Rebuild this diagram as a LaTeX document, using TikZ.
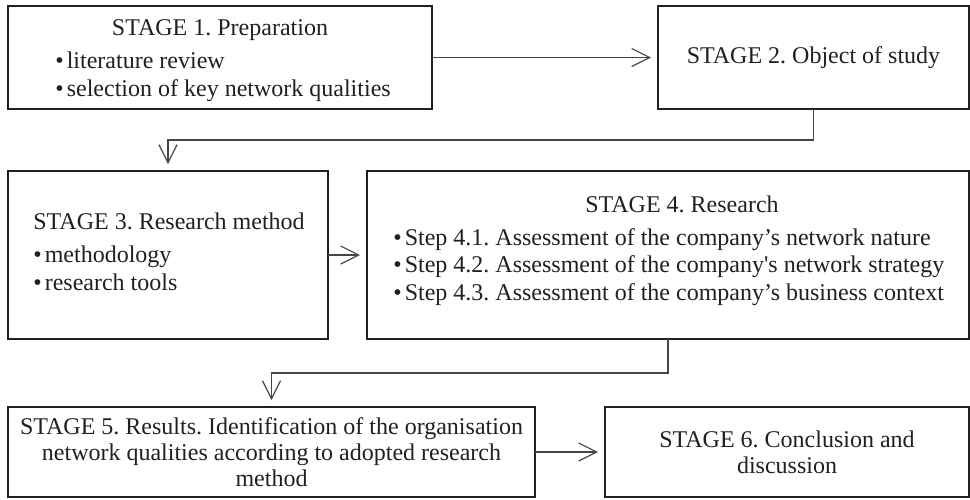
\documentclass[tikz,border=0pt]{standalone}
\usepackage{fontspec}
\setmainfont{Liberation Serif}
\usetikzlibrary{arrows.meta}
\definecolor{inkgray}{RGB}{35,31,32}
\definecolor{linegray}{RGB}{70,70,70}
\newcommand{\stagebullet}{•\kern1.5pt}
\frenchspacing
\tikzset{
stagebox/.style={draw=inkgray,line width=1pt,inner sep=0pt,outer sep=0pt,align=center,text=inkgray,font=\fontsize{12}{13}\selectfont},
stagetext/.style={inner sep=0pt,text=inkgray,font=\fontsize{12}{14}\selectfont},
conn/.style={draw=linegray,line width=.6pt,shorten >=3.5pt,-{Straight Barb[length=9pt,width=9pt]}}
}
\begin{document}
\begin{tikzpicture}
\begin{scope}[x=.5pt,y=-.5pt]
\useasboundingbox (0,0) rectangle (970,499);
\node[stagebox,minimum width=212pt,minimum height=51.5pt] (s1) at (220,57.5) {};
\node[stagebox,minimum width=155.5pt,minimum height=51.5pt] (s2) at (813.5,57.5) {STAGE 2. Object of study};
\node[stagebox,minimum width=160pt,minimum height=84pt] (s3) at (168,255) {};
\node[stagebox,minimum width=301pt,minimum height=84pt] (s4) at (668,255) {};
\node[stagebox,minimum width=263.5pt,minimum height=45pt] (s5) at (271.5,452) {STAGE 5. Results. Identification of the organisation\\network qualities according to adopted research\\method};
\node[stagebox,minimum width=182pt,minimum height=45pt] (s6) at (787,452) {STAGE 6. Conclusion and\\discussion};
\node[stagetext,anchor=base] (s1title) at (220,35) {STAGE 1. Preparation};
\node[stagetext,anchor=base west] (s1a) at (55,68) {\stagebullet literature review};
\node[stagetext,anchor=base west] (s1b) at (55,96) {\stagebullet selection of key network qualities};
\node[stagetext,anchor=base west] (s3title) at (33,229) {STAGE 3. Research method};
\node[stagetext,anchor=base west] (s3a) at (33,262) {\stagebullet methodology};
\node[stagetext,anchor=base west] (s3b) at (33,290) {\stagebullet research tools};
\node[stagetext,anchor=base] (s4title) at (682,212) {STAGE 4. Research};
\node[stagetext,anchor=base west] (s4a) at (393,245) {\stagebullet Step 4.1. Assessment of the company’s network nature};
\node[stagetext,anchor=base west] (s4b) at (393,272) {\stagebullet Step 4.2. Assessment of the company\textquotesingle s network strategy};
\node[stagetext,anchor=base west] (s4c) at (393,300) {\stagebullet Step 4.3. Assessment of the company’s business context};
\draw[conn] (s1) -- (s2);
\draw[conn] (s2.south) -- ++(0,31) -| (s3.north);
\draw[conn] (s3) -- (s4);
\draw[conn] (s4.south) -- ++(0,34) -| (s5.north);
\draw[conn] (s5) -- (s6);
\end{scope}
\end{tikzpicture}
\end{document}
